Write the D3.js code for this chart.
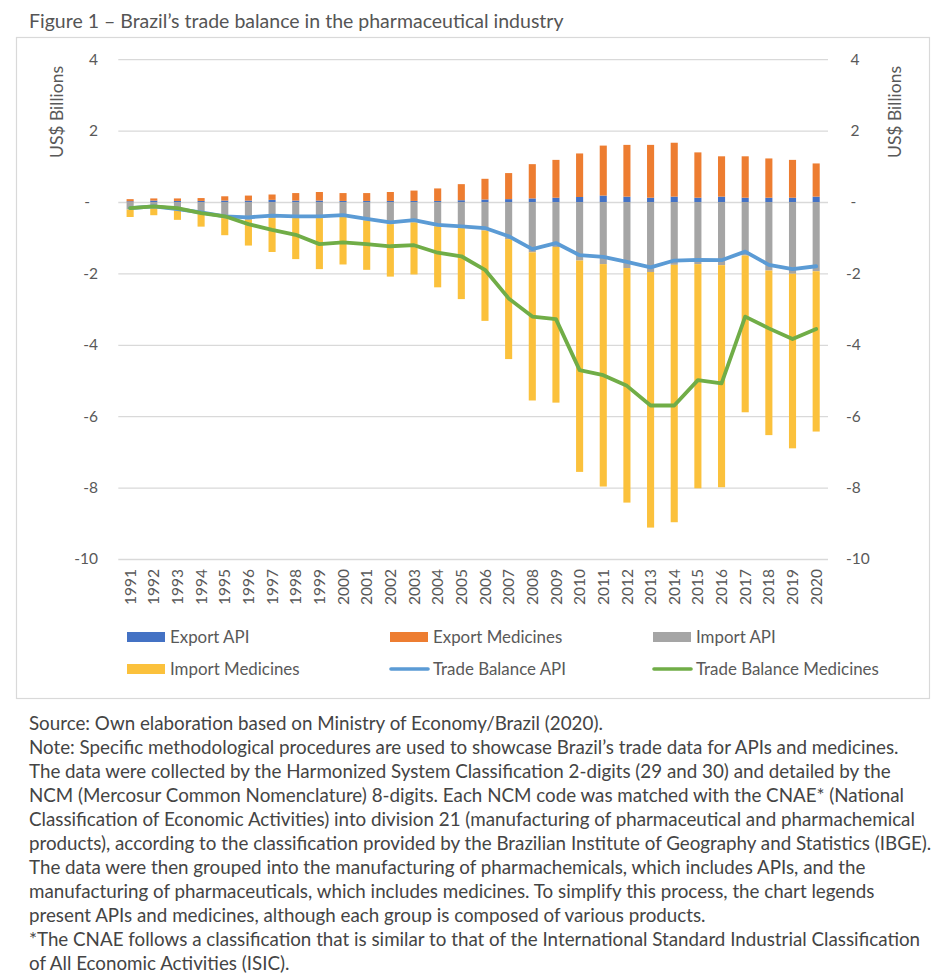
<!DOCTYPE html>
<html><head><meta charset="utf-8">
<script src="https://cdn.jsdelivr.net/npm/d3@7"></script>
<style>
body{margin:0;background:#fff;}
svg{display:block;}
text{font-family:Lato,"Liberation Sans",sans-serif;}
</style>
</head><body>
<svg id="c" width="948" height="980"></svg>
<script>
// ---------------- data ----------------
const years = [1991,1992,1993,1994,1995,1996,1997,1998,1999,2000,2001,2002,2003,2004,2005,2006,2007,2008,2009,2010,2011,2012,2013,2014,2015,2016,2017,2018,2019,2020];
const exportAPI = [0.02,0.04,0.03,0.03,0.04,0.04,0.06,0.04,0.04,0.03,0.03,0.03,0.03,0.03,0.05,0.07,0.08,0.10,0.12,0.14,0.18,0.15,0.12,0.15,0.12,0.15,0.12,0.12,0.12,0.15];
const exportMedicines = [0.06,0.06,0.07,0.08,0.12,0.14,0.15,0.21,0.24,0.22,0.22,0.25,0.29,0.35,0.45,0.58,0.73,0.96,1.06,1.22,1.40,1.45,1.48,1.51,1.27,1.13,1.16,1.10,1.06,0.93];
const importAPI = [-0.21,-0.17,-0.24,-0.34,-0.45,-0.50,-0.45,-0.45,-0.45,-0.42,-0.52,-0.62,-0.57,-0.68,-0.73,-0.80,-1.04,-1.41,-1.26,-1.64,-1.74,-1.85,-1.96,-1.76,-1.74,-1.77,-1.50,-1.92,-2.01,-1.94];
const importMedicines = [-0.21,-0.20,-0.26,-0.35,-0.48,-0.72,-0.95,-1.15,-1.43,-1.33,-1.38,-1.47,-1.46,-1.71,-1.99,-2.53,-3.36,-4.15,-4.36,-5.92,-6.23,-6.57,-7.16,-7.21,-6.28,-6.22,-4.39,-4.61,-4.89,-4.49];
const tradeBalanceAPI = [-0.17,-0.12,-0.20,-0.29,-0.40,-0.43,-0.38,-0.40,-0.40,-0.37,-0.47,-0.57,-0.51,-0.64,-0.68,-0.73,-0.96,-1.32,-1.15,-1.49,-1.54,-1.68,-1.83,-1.64,-1.62,-1.63,-1.39,-1.76,-1.88,-1.80];
const tradeBalanceMedicines = [-0.17,-0.12,-0.17,-0.31,-0.40,-0.62,-0.78,-0.92,-1.18,-1.13,-1.18,-1.24,-1.21,-1.42,-1.52,-1.90,-2.70,-3.21,-3.28,-4.71,-4.85,-5.15,-5.70,-5.70,-4.99,-5.08,-3.21,-3.54,-3.84,-3.56];
const yTicks = [4,2,0,-2,-4,-6,-8,-10];
const barSeriesNames = ["Export API","Export Medicines","Import API","Import Medicines"];
const lineSeriesNames = ["Trade Balance API","Trade Balance Medicines"];
const axisTitle = "US$ Billions";
const titleText = "Figure 1 \u2013 Brazil\u2019s trade balance in the pharmaceutical industry";
const footerLines = [
  "Source: Own elaboration based on Ministry of Economy/Brazil (2020).",
  "Note: Specific methodological procedures are used to showcase Brazil\u2019s trade data for APIs and medicines.",
  "The data were collected by the Harmonized System Classification 2-digits (29 and 30) and detailed by the",
  "NCM (Mercosur Common Nomenclature) 8-digits. Each NCM code was matched with the CNAE* (National",
  "Classification of Economic Activities) into division 21 (manufacturing of pharmaceutical and pharmachemical",
  "products), according to the classification provided by the Brazilian Institute of Geography and Statistics (IBGE).",
  "The data were then grouped into the manufacturing of pharmachemicals, which includes APIs, and the",
  "manufacturing of pharmaceuticals, which includes medicines. To simplify this process, the chart legends",
  "present APIs and medicines, although each group is composed of various products.",
  "*The CNAE follows a classification that is similar to that of the International Standard Industrial Classification",
  "of All Economic Activities (ISIC)."
];

// ---------------- styles ----------------
const barColors = {"Export API":"#4472C4","Export Medicines":"#ED7D31","Import API":"#A5A5A5","Import Medicines":"#FBC13C"};
const lineColors = {"Trade Balance API":"#5B9BD5","Trade Balance Medicines":"#70AD47"};
const textCol = "#595959";

const svg = d3.select("#c");
const L = 118.3, R = 828, T = 59.2, B = 559;

function fitWidth(sel, target){
  const w = sel.node().getComputedTextLength();
  const fs = parseFloat(sel.attr("font-size"));
  sel.attr("font-size", fs * target / w);
}

// chart frame
svg.append("rect").attr("x",16.5).attr("y",37.5).attr("width",913).attr("height",661)
  .attr("fill","#fff").attr("stroke","#d9d9d9").attr("stroke-width",1.2);

// title
const title = svg.append("text").attr("x",29).attr("y",28).attr("font-size",18)
  .attr("fill","#555").text(titleText);
fitWidth(title, 535);

// scales
const x = d3.scaleBand().domain(years).range([L,R]).paddingInner(0.7).paddingOuter(0.35);
const y = d3.scaleLinear().domain([-10,4]).range([B,T]);

// gridlines
const grid = svg.append("g").attr("transform",`translate(${L},0)`)
  .call(d3.axisLeft(y).tickValues(yTicks).tickSize(-(R-L)).tickFormat(""));
grid.select(".domain").remove();
grid.selectAll("line").attr("stroke","#d9d9d9").attr("stroke-width",1.3);

// y axes labels
const fmt = d => d === 0 ? "-" : String(d);
const la = svg.append("g").attr("transform","translate(98,0)")
  .call(d3.axisLeft(y).tickValues(yTicks).tickSize(0).tickPadding(0).tickFormat(fmt));
la.select(".domain").remove();
la.selectAll("text").attr("font-size",15.5).attr("fill",textCol).attr("font-family","Lato")
  .attr("dx", d => d === 0 ? -8 : 0);
const ra = svg.append("g").attr("transform","translate(846,0)")
  .call(d3.axisRight(y).tickValues(yTicks).tickSize(0).tickPadding(0).tickFormat(fmt));
ra.select(".domain").remove();
ra.selectAll("text").attr("font-size",15.5).attr("fill",textCol).attr("font-family","Lato")
  .attr("dx", d => d >= 0 ? 4.5 : 0);

// axis titles
const lt = svg.append("text").attr("transform","translate(63,112) rotate(-90)")
  .attr("text-anchor","middle").attr("font-size",17).attr("fill",textCol).text(axisTitle);
fitWidth(lt, 92);
const rt = svg.append("text").attr("transform","translate(901,112) rotate(-90)")
  .attr("text-anchor","middle").attr("font-size",17).attr("fill",textCol).text(axisTitle);
fitWidth(rt, 92);

// stacked bars
const table = years.map((yr,i)=>({year:yr,"Export API":exportAPI[i],"Export Medicines":exportMedicines[i],
  "Import API":importAPI[i],"Import Medicines":importMedicines[i]}));
const stacked = d3.stack().keys(barSeriesNames).offset(d3.stackOffsetDiverging)(table);
svg.append("g").selectAll("g").data(stacked).join("g")
  .attr("fill", s => barColors[s.key])
  .selectAll("rect").data(s => s).join("rect")
  .attr("x", d => x(d.data.year))
  .attr("width", x.bandwidth())
  .attr("y", d => y(Math.max(d[0],d[1])))
  .attr("height", d => Math.abs(y(d[0]) - y(d[1])));

// lines
const lineGen = d3.line().x((d,i)=>x(years[i]) + x.bandwidth()/2).y(d=>y(d));
[[lineSeriesNames[0],tradeBalanceAPI],[lineSeriesNames[1],tradeBalanceMedicines]].forEach(([name,vals])=>{
  svg.append("path").attr("d", lineGen(vals)).attr("fill","none")
    .attr("stroke", lineColors[name]).attr("stroke-width",3.8)
    .attr("stroke-linejoin","round").attr("stroke-linecap","round");
});

// x axis labels
const xa = svg.append("g").attr("transform",`translate(0,${B})`)
  .call(d3.axisBottom(x).tickSize(0).tickPadding(0));
xa.select(".domain").remove();
xa.selectAll("text").attr("transform","rotate(-90)").attr("text-anchor","end")
  .attr("x",-10).attr("y",0).attr("dy","0.36em").attr("font-size",15.5)
  .attr("fill",textCol).attr("font-family","Lato");

// legend
const legendItems = [
  {name:"Export API", type:"bar", col:0, row:0},
  {name:"Export Medicines", type:"bar", col:1, row:0},
  {name:"Import API", type:"bar", col:2, row:0},
  {name:"Import Medicines", type:"bar", col:0, row:1},
  {name:"Trade Balance API", type:"line", col:1, row:1},
  {name:"Trade Balance Medicines", type:"line", col:2, row:1}
];
const colX = [127, 390, 653], rowY = [637, 669];
const lg = svg.append("g");
legendItems.forEach(it=>{
  const gx = colX[it.col], gy = rowY[it.row];
  if (it.type === "bar") {
    lg.append("rect").attr("x",gx).attr("y",gy-5).attr("width",38).attr("height",10).attr("fill",barColors[it.name]);
  } else {
    lg.append("line").attr("x1",gx+1).attr("x2",gx+38).attr("y1",gy).attr("y2",gy)
      .attr("stroke",lineColors[it.name]).attr("stroke-width",3.6).attr("stroke-linecap","round");
  }
  lg.append("text").attr("class","lgt").attr("x",gx+43).attr("y",gy).attr("dy","0.35em")
    .attr("font-size",15.5).attr("fill",textCol).text(it.name);
});
// size legend text to match the longest entry
const lgLong = lg.selectAll("text.lgt").filter(function(){return this.textContent === lineSeriesNames[1];});
const lw = lgLong.node().getComputedTextLength();
const lfs = 15.5 * 183 / lw;
lg.selectAll("text.lgt").attr("font-size", lfs);

// footer
const ft = svg.append("g");
footerLines.forEach((t,i)=>{
  ft.append("text").attr("x",29).attr("y",723.3 + i*24).attr("dy","0.35em")
    .attr("font-size",17).attr("fill","#444").text(t);
});
const longest = ft.selectAll("text").nodes()[5];
const fw = longest.getComputedTextLength();
ft.selectAll("text").attr("font-size", 17 * 903 / fw);
</script>
</body></html>
